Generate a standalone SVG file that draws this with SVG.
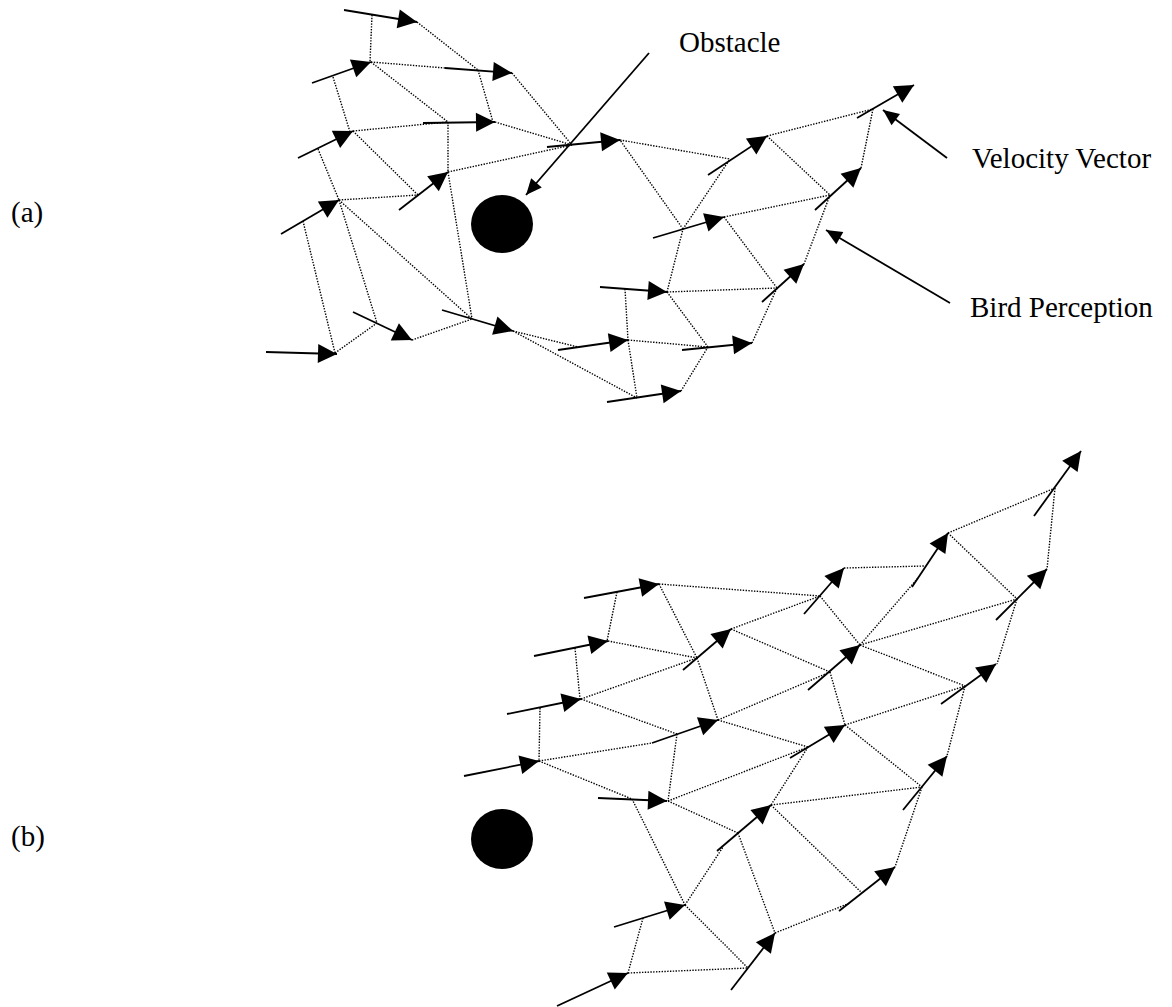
<svg xmlns="http://www.w3.org/2000/svg" width="1172" height="1007" viewBox="0 0 1172 1007">
<style>
.v{stroke:#000;stroke-width:1.8;fill:none;marker-end:url(#head)}
.p{stroke:#000;stroke-width:1.8;fill:none;marker-end:url(#phead)}
.d{stroke:#000;stroke-width:1.4;stroke-dasharray:1.4 1.4;fill:none}
.t{font-family:"Liberation Serif","Times New Roman",serif;font-size:29px;fill:#000}
.obs{fill:#000}
</style>
<defs>
<marker id="head" markerUnits="userSpaceOnUse" markerWidth="20" markerHeight="20" refX="19" refY="9.5" orient="auto" overflow="visible"><path d="M0,0 L19,9.5 L0,19 Z" fill="#000"/></marker>
<marker id="phead" markerUnits="userSpaceOnUse" markerWidth="17" markerHeight="15" refX="16" refY="7" orient="auto" overflow="visible"><path d="M0,0 L16,7 L0,14 Z" fill="#000"/></marker>
</defs>
<rect width="1172" height="1007" fill="#fff"/>

<g id="connectors">
<line class="d" x1="372" y1="15" x2="370" y2="62"/>
<line class="d" x1="417" y1="22" x2="478" y2="70"/>
<line class="d" x1="478" y1="70" x2="493" y2="122"/>
<line class="d" x1="371" y1="62" x2="445" y2="68"/>
<line class="d" x1="371" y1="62" x2="448" y2="122"/>
<line class="d" x1="333" y1="77" x2="350" y2="132"/>
<line class="d" x1="353" y1="131" x2="448" y2="122"/>
<line class="d" x1="495" y1="122" x2="572" y2="145"/>
<line class="d" x1="448" y1="122" x2="448" y2="172"/>
<line class="d" x1="448" y1="172" x2="572" y2="145"/>
<line class="d" x1="512" y1="73" x2="572" y2="145"/>
<line class="d" x1="353" y1="131" x2="418" y2="195"/>
<line class="d" x1="318" y1="149" x2="339" y2="200"/>
<line class="d" x1="339" y1="200" x2="418" y2="195"/>
<line class="d" x1="448" y1="172" x2="472" y2="319"/>
<line class="d" x1="339" y1="200" x2="472" y2="319"/>
<line class="d" x1="339" y1="200" x2="377" y2="323"/>
<line class="d" x1="303" y1="221" x2="335" y2="353"/>
<line class="d" x1="335" y1="353" x2="377" y2="323"/>
<line class="d" x1="412" y1="340" x2="472" y2="319"/>
<line class="d" x1="513" y1="331" x2="578" y2="347"/>
<line class="d" x1="513" y1="331" x2="637" y2="398"/>
<line class="d" x1="625" y1="289" x2="628" y2="340"/>
<line class="d" x1="628" y1="340" x2="637" y2="398"/>
<line class="d" x1="628" y1="340" x2="708" y2="347"/>
<line class="d" x1="667" y1="292" x2="708" y2="347"/>
<line class="d" x1="667" y1="292" x2="777" y2="288"/>
<line class="d" x1="667" y1="292" x2="683" y2="229"/>
<line class="d" x1="683" y1="229" x2="620" y2="140"/>
<line class="d" x1="683" y1="229" x2="730" y2="159"/>
<line class="d" x1="724" y1="217" x2="830" y2="195"/>
<line class="d" x1="724" y1="217" x2="777" y2="288"/>
<line class="d" x1="681" y1="391" x2="708" y2="347"/>
<line class="d" x1="752" y1="343" x2="777" y2="288"/>
<line class="d" x1="620" y1="140" x2="730" y2="159"/>
<line class="d" x1="767" y1="136" x2="873" y2="109"/>
<line class="d" x1="767" y1="136" x2="830" y2="195"/>
<line class="d" x1="873" y1="109" x2="861" y2="168"/>
<line class="d" x1="830" y1="195" x2="804" y2="264"/>

<line class="d" x1="617" y1="592" x2="607" y2="641"/>
<line class="d" x1="659" y1="584" x2="820" y2="596"/>
<line class="d" x1="659" y1="584" x2="697" y2="658"/>
<line class="d" x1="697" y1="658" x2="718" y2="720"/>
<line class="d" x1="608" y1="641" x2="697" y2="658"/>
<line class="d" x1="575" y1="648" x2="580" y2="699"/>
<line class="d" x1="581" y1="699" x2="697" y2="658"/>
<line class="d" x1="581" y1="699" x2="677" y2="734"/>
<line class="d" x1="540" y1="708" x2="539" y2="761"/>
<line class="d" x1="539" y1="761" x2="652" y2="743"/>
<line class="d" x1="539" y1="761" x2="632" y2="799"/>
<line class="d" x1="677" y1="734" x2="668" y2="801"/>
<line class="d" x1="668" y1="801" x2="738" y2="833"/>
<line class="d" x1="668" y1="801" x2="808" y2="747"/>
<line class="d" x1="731" y1="629" x2="820" y2="596"/>
<line class="d" x1="731" y1="629" x2="830" y2="672"/>
<line class="d" x1="820" y1="596" x2="860" y2="645"/>
<line class="d" x1="844" y1="568" x2="925" y2="566"/>
<line class="d" x1="860" y1="645" x2="918" y2="578"/>
<line class="d" x1="948" y1="533" x2="1055" y2="488"/>
<line class="d" x1="1055" y1="488" x2="1047" y2="569"/>
<line class="d" x1="948" y1="533" x2="1017" y2="599"/>
<line class="d" x1="1017" y1="599" x2="997" y2="664"/>
<line class="d" x1="860" y1="645" x2="1017" y2="599"/>
<line class="d" x1="860" y1="645" x2="965" y2="686"/>
<line class="d" x1="965" y1="686" x2="947" y2="756"/>
<line class="d" x1="718" y1="720" x2="830" y2="672"/>
<line class="d" x1="830" y1="672" x2="845" y2="725"/>
<line class="d" x1="718" y1="720" x2="808" y2="747"/>
<line class="d" x1="845" y1="725" x2="965" y2="686"/>
<line class="d" x1="845" y1="725" x2="922" y2="787"/>
<line class="d" x1="808" y1="747" x2="771" y2="805"/>
<line class="d" x1="771" y1="805" x2="922" y2="787"/>
<line class="d" x1="771" y1="805" x2="862" y2="893"/>
<line class="d" x1="922" y1="787" x2="895" y2="867"/>
<line class="d" x1="685" y1="905" x2="723" y2="847"/>
<line class="d" x1="738" y1="833" x2="775" y2="933"/>
<line class="d" x1="775" y1="933" x2="850" y2="903"/>
<line class="d" x1="685" y1="905" x2="748" y2="968"/>
<line class="d" x1="643" y1="918" x2="628" y2="973"/>
<line class="d" x1="628" y1="973" x2="748" y2="968"/>
<line class="d" x1="632" y1="799" x2="685" y2="905"/>

<line class="p" x1="649" y1="53" x2="526" y2="195"/>
<line class="p" x1="947" y1="158" x2="883" y2="110"/>
<line class="p" x1="950" y1="303" x2="826" y2="230"/>
</g>

<g id="obstacle-a"><ellipse class="obs" cx="502" cy="224" rx="31" ry="29"/></g>
<g id="obstacle-b"><ellipse class="obs" cx="502" cy="839" rx="31" ry="30"/></g>

<g id="birds-a">
<g id="a1"><line class="v" x1="344" y1="10" x2="417" y2="22"/></g>
<g id="a2"><line class="v" x1="312" y1="83" x2="371" y2="62"/></g>
<g id="a3"><line class="v" x1="445" y1="68" x2="512" y2="73"/></g>
<g id="a4"><line class="v" x1="298" y1="158" x2="353" y2="131"/></g>
<g id="a5"><line class="v" x1="423" y1="123" x2="495" y2="122"/></g>
<g id="a6"><line class="v" x1="399" y1="210" x2="448" y2="172"/></g>
<g id="a7"><line class="v" x1="281" y1="234" x2="339" y2="200"/></g>
<g id="a8"><line class="v" x1="266" y1="352" x2="337" y2="354"/></g>
<g id="a9"><line class="v" x1="353" y1="312" x2="412" y2="340"/></g>
<g id="a10"><line class="v" x1="442" y1="310" x2="513" y2="331"/></g>
<g id="a11"><line class="v" x1="547" y1="147" x2="620" y2="140"/></g>
<g id="a12"><line class="v" x1="708" y1="175" x2="767" y2="136"/></g>
<g id="a13"><line class="v" x1="857" y1="118" x2="914" y2="85"/></g>
<g id="a14"><line class="v" x1="815" y1="210" x2="861" y2="168"/></g>
<g id="a15"><line class="v" x1="653" y1="238" x2="724" y2="217"/></g>
<g id="a16"><line class="v" x1="600" y1="287" x2="667" y2="292"/></g>
<g id="a17"><line class="v" x1="762" y1="302" x2="804" y2="264"/></g>
<g id="a18"><line class="v" x1="558" y1="350" x2="628" y2="340"/></g>
<g id="a19"><line class="v" x1="682" y1="350" x2="752" y2="343"/></g>
<g id="a20"><line class="v" x1="607" y1="402" x2="681" y2="391"/></g>
</g>

<g id="birds-b">
<g id="b1"><line class="v" x1="584" y1="598" x2="659" y2="584"/></g>
<g id="b2"><line class="v" x1="534" y1="656" x2="608" y2="641"/></g>
<g id="b3"><line class="v" x1="507" y1="714" x2="581" y2="699"/></g>
<g id="b4"><line class="v" x1="464" y1="776" x2="539" y2="761"/></g>
<g id="b5"><line class="v" x1="683" y1="670" x2="731" y2="629"/></g>
<g id="b6"><line class="v" x1="652" y1="743" x2="718" y2="720"/></g>
<g id="b7"><line class="v" x1="598" y1="798" x2="667" y2="801"/></g>
<g id="b8"><line class="v" x1="804" y1="614" x2="844" y2="568"/></g>
<g id="b9"><line class="v" x1="912" y1="587" x2="948" y2="533"/></g>
<g id="b10"><line class="v" x1="1034" y1="516" x2="1081" y2="451"/></g>
<g id="b11"><line class="v" x1="996" y1="620" x2="1047" y2="569"/></g>
<g id="b12"><line class="v" x1="808" y1="690" x2="860" y2="645"/></g>
<g id="b13"><line class="v" x1="941" y1="704" x2="996" y2="664"/></g>
<g id="b14"><line class="v" x1="790" y1="758" x2="845" y2="725"/></g>
<g id="b15"><line class="v" x1="903" y1="810" x2="947" y2="756"/></g>
<g id="b16"><line class="v" x1="717" y1="851" x2="771" y2="805"/></g>
<g id="b17"><line class="v" x1="839" y1="911" x2="895" y2="867"/></g>
<g id="b18"><line class="v" x1="614" y1="927" x2="685" y2="905"/></g>
<g id="b19"><line class="v" x1="557" y1="1006" x2="628" y2="973"/></g>
<g id="b20"><line class="v" x1="731" y1="990" x2="775" y2="933"/></g>
</g>

<g id="label-a"><text class="t" x="11" y="222">(a)</text></g>
<g id="label-b"><text class="t" x="11" y="846">(b)</text></g>
<g id="label-obstacle"><text class="t" x="679" y="52">Obstacle</text></g>
<g id="label-velocity"><text class="t" x="972" y="168">Velocity Vector</text></g>
<g id="label-perception"><text class="t" x="970" y="317">Bird Perception</text></g>
</svg>
